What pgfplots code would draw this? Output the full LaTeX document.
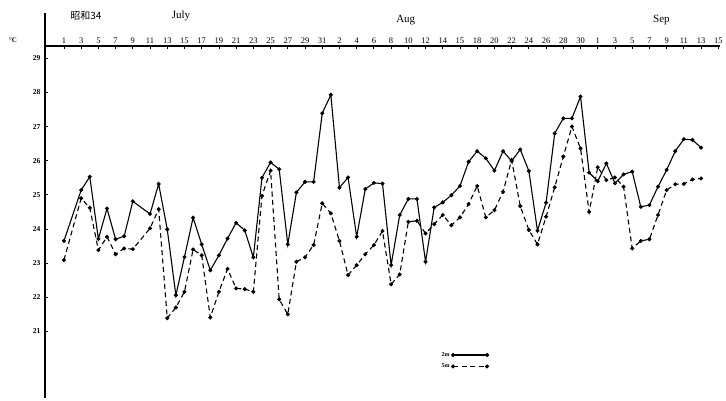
\documentclass[border=0pt]{standalone}
\usepackage{fontspec}
\setmainfont{Liberation Serif}
\newfontfamily\cjk{Noto Sans CJK JP}
\usepackage{pgfplots}
\usepackage{pgfplotstable}
\pgfplotsset{compat=1.18}

% Daily water temperature (deg C); day 1 = 1 July, 32 = 1 Aug, 63 = 1 Sep
\pgfplotstableread{
day t
1 23.65
3 25.14
4 25.53
5 23.71
6 24.60
7 23.70
8 23.79
9 24.81
11 24.44
12 25.32
13 23.99
14 22.06
15 23.18
16 24.33
17 23.55
18 22.79
19 23.23
20 23.72
21 24.18
22 23.96
23 23.17
24 25.50
25 25.95
26 25.75
27 23.55
28 25.07
29 25.38
30 25.38
31 27.39
32 27.93
33 25.21
34 25.51
35 23.77
36 25.17
37 25.35
38 25.33
39 22.94
40 24.41
41 24.88
42 24.88
43 23.04
44 24.63
45 24.78
46 24.99
47 25.26
48 25.97
49 26.28
50 26.07
51 25.71
52 26.28
53 25.99
54 26.33
55 25.70
56 23.95
57 24.77
58 26.80
59 27.24
60 27.24
61 27.88
62 25.65
63 25.40
64 25.92
65 25.34
66 25.60
67 25.68
68 24.65
69 24.70
70 25.24
71 25.73
72 26.28
73 26.63
74 26.61
75 26.38
}\twom

\pgfplotstableread{
day t
1 23.09
3 24.90
4 24.62
5 23.38
6 23.77
7 23.26
8 23.43
9 23.41
11 24.02
12 24.58
13 21.39
14 21.70
15 22.16
16 23.40
17 23.23
18 21.41
19 22.16
20 22.83
21 22.26
22 22.24
23 22.16
24 24.97
25 25.71
26 21.94
27 21.50
28 23.04
29 23.17
30 23.53
31 24.75
32 24.46
33 23.65
34 22.65
35 22.94
36 23.26
37 23.53
38 23.94
39 22.38
40 22.67
41 24.21
42 24.24
43 23.87
44 24.14
45 24.41
46 24.11
47 24.34
48 24.73
49 25.26
50 24.34
51 24.55
52 25.09
53 26.02
54 24.67
55 23.97
56 23.55
57 24.36
58 25.22
59 26.12
60 27.00
61 26.36
62 24.50
63 25.81
64 25.43
65 25.51
66 25.24
67 23.43
68 23.65
69 23.70
70 24.41
71 25.14
72 25.31
73 25.32
74 25.45
75 25.48
}\fivem

\begin{document}
\begin{tikzpicture}
\begin{axis}[
  scale only axis,
  width=675pt, height=352pt,
  xmin=-1.2, xmax=77.2,
  ymin=19.05, ymax=29.36,
  axis x line*=top,
  axis y line*=left,
  axis line style={line width=1.1pt, -},
  clip=false,
  xtick={1,3,...,77},
  xticklabels={1,3,5,7,9,11,13,15,17,19,21,23,25,27,29,31,
               2,4,6,8,10,12,14,15,18,20,22,24,26,28,30,
               1,3,5,7,9,11,13,15},
  ytick={21,...,29},
  tick align=inside,
  major tick length=3pt,
  tick style={line width=0.8pt, black},
  /pgf/number format/assume math mode=true,
  xticklabel style={font=\fontsize{8.5}{10}\selectfont, yshift=-1pt},
  yticklabel style={font=\fontsize{7.5}{9}\selectfont\bfseries, xshift=-1pt},
  legend plot pos=right,
  legend cell align=right,
  legend style={at={(rel axis cs:0.58,0.07)}, anchor=south west,
    draw=none, fill=none, font=\fontsize{6}{7}\selectfont\bfseries,
    row sep=2pt},
  legend image code/.code={
    \draw[mark repeat=1,#1] plot coordinates {(0pt,0pt) (34pt,0pt)};
  },
]
\addplot[black, line width=1.1pt, mark=*, mark size=1.4pt]
  table[x=day, y=t] {\twom};
\addlegendentry{2m}
\addplot[black, line width=1.1pt, dash pattern=on 5pt off 3.5pt,
  mark=*, mark size=1.4pt, mark options={solid}]
  table[x=day, y=t] {\fivem};
\addlegendentry{5m}

% upward extension of the vertical axis
\draw[line width=1.1pt] (rel axis cs:0,1) -- ([yshift=33pt]rel axis cs:0,1);
% unit and month headings
\node[font=\fontsize{7}{8}\selectfont\bfseries] at ([xshift=-32pt, yshift=6pt]rel axis cs:0,1) {°C};
\node[font=\cjk\fontsize{10}{12}\selectfont] at ([yshift=30pt]axis cs:3.55,29.36) {昭和34};
\node[font=\fontsize{11}{13}\selectfont] at ([yshift=30pt]axis cs:14.6,29.36) {July};
\node[font=\fontsize{11}{13}\selectfont] at ([yshift=26pt]axis cs:40.7,29.36) {Aug};
\node[font=\fontsize{11}{13}\selectfont] at ([yshift=26pt]axis cs:70.4,29.36) {Sep};
\end{axis}
\pgfresetboundingbox
\path[use as bounding box] ([shift={(-45pt,-3pt)}]current axis.south west)
  rectangle ([shift={(6pt,46pt)}]current axis.north east);
\end{tikzpicture}
\end{document}
